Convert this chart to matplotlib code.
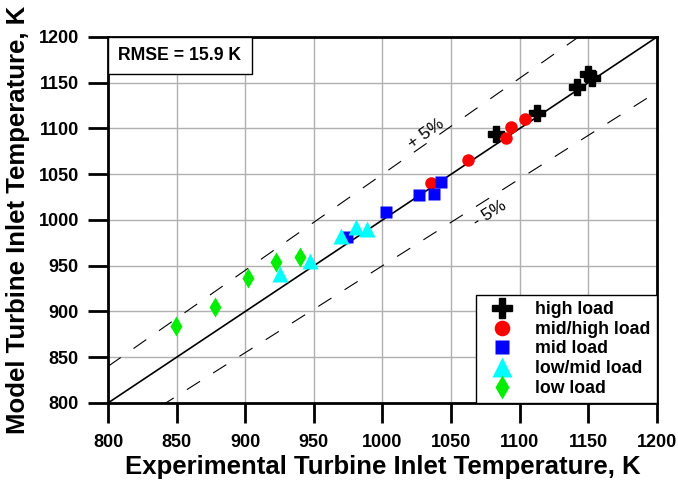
import numpy as np
import matplotlib
matplotlib.use("Agg")
import matplotlib.pyplot as plt

plt.rcParams['font.family'] = ['Liberation Sans', 'DejaVu Sans']

# experimental vs model turbine inlet temperature, K
high_x = [1082.7, 1112.8, 1141.5, 1150.0, 1153.0]
high_y = [1093.6, 1116.6, 1145.0, 1159.0, 1155.0]

midhigh_x = [1035.3, 1062.5, 1090.0, 1093.6, 1103.8]
midhigh_y = [1040.8, 1065.6, 1090.0, 1101.3, 1110.4]

mid_x = [974.4, 1002.6, 1026.6, 1037.3, 1042.4]
mid_y = [981.0, 1008.7, 1027.7, 1028.4, 1041.9]

lowmid_x = [925.3, 947.2, 969.5, 980.7, 988.9]
lowmid_y = [941.0, 955.5, 982.5, 992.7, 989.8]

low_x = [849.3, 878.0, 902.0, 922.4, 939.9]
low_y = [884.5, 905.3, 936.3, 954.0, 959.2]

rmse = 15.9
lims = [800, 1200]

fig = plt.figure(figsize=(6.78, 4.84), dpi=100)
ax = fig.add_axes([0.1593, 0.1674, 0.8097, 0.7562])

ax.set_xlim(lims)
ax.set_ylim(lims)
ax.set_xticks(np.arange(800, 1201, 50))
ax.set_yticks(np.arange(800, 1201, 50))
ax.grid(True, color='#b0b0b0', lw=1.0)
ax.set_axisbelow(True)

# 1:1 line and +/-5 % band
line = np.array(lims)
ax.plot(line, line, color='black', lw=1.2, zorder=2)
ax.plot(line, 1.05 * line, color='black', lw=0.8, ls=(0, (14, 14)), zorder=2)
ax.plot(line, 0.95 * line, color='black', lw=0.8, ls=(0, (14, 14)), zorder=2)

ax.text(1032, 1094, '+ 5%', rotation=35, fontsize=12.5, ha='center', va='center')
ax.text(1078, 1007, '- 5%', rotation=32, fontsize=12.5, ha='center', va='center')

ax.plot(high_x, high_y, 'P', color='black', ms=11, mec='black', ls='none',
        label='high load', zorder=3)
ax.plot(midhigh_x, midhigh_y, 'o', color='#FF0000', ms=9, mec='none', ls='none',
        label='mid/high load', zorder=3)
ax.plot(mid_x, mid_y, 's', color='#0000FF', ms=8.5, mec='none', ls='none',
        label='mid load', zorder=3)
ax.plot(lowmid_x, lowmid_y, '^', color='#00FFFF', ms=11, mec='none', ls='none',
        label='low/mid load', zorder=3)
ax.plot(low_x, low_y, 'd', color='#00EE00', ms=10, mec='none', ls='none',
        label='low load', zorder=3)

leg = ax.legend(loc='lower right', fontsize=12.8, frameon=True, fancybox=False,
                edgecolor='black', framealpha=1, borderaxespad=0,
                handletextpad=0.8, labelspacing=0.15, borderpad=0.35,
                markerscale=1.25, handlelength=2.2)
leg.get_frame().set_linewidth(1.0)
for t in leg.get_texts():
    t.set_fontweight('bold')

ax.annotate('RMSE = %.1f K' % rmse, xy=(0, 1), xycoords='axes fraction',
            xytext=(7.4, -7.4), textcoords='offset points',
            fontsize=12.7, fontweight='bold', ha='left', va='top',
            bbox=dict(boxstyle='square,pad=0.58', fc='white', ec='black', lw=1.0))

for s in ax.spines.values():
    s.set_linewidth(2)
ax.tick_params(direction='out', length=14.4, width=2, labelsize=13)
ax.tick_params(axis='x', pad=8)
ax.tick_params(axis='y', pad=6.5)
for lab in ax.get_xticklabels() + ax.get_yticklabels():
    lab.set_fontweight('bold')

ax.set_xlabel('Experimental Turbine Inlet Temperature, K', fontsize=18.5,
              fontweight='bold', labelpad=3)
ax.set_ylabel('Model Turbine Inlet Temperature, K', fontsize=18.5,
              fontweight='bold', labelpad=6)

fig.savefig('out.png', dpi=100)
